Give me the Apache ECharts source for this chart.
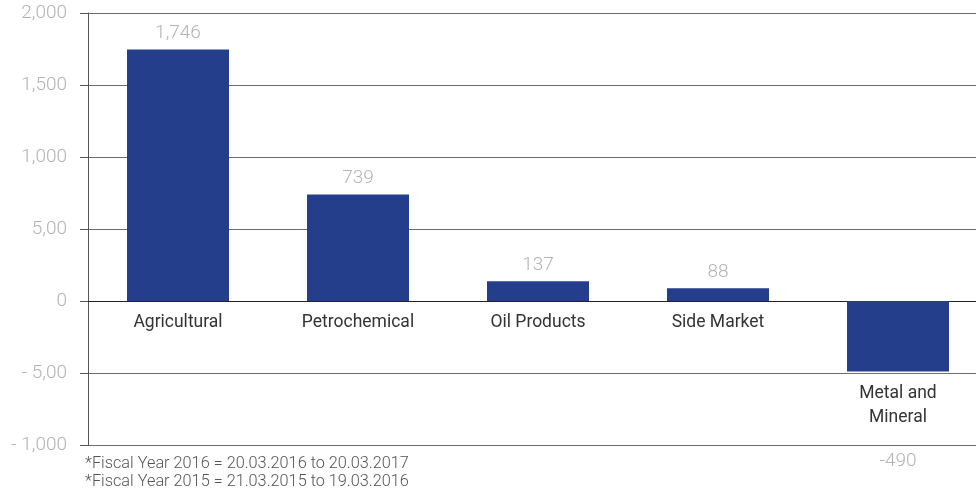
<!DOCTYPE html>
<html>
<head>
<meta charset="utf-8">
<script src="https://cdn.jsdelivr.net/npm/echarts@6/dist/echarts.min.js"></script>
<style>
  html, body { margin: 0; padding: 0; background: #fff; overflow: hidden; }
  #chart { width: 988px; height: 491px; }
</style>
</head>
<body>
<div id="chart"></div>
<script>
// Segment results by market
const categories = ['Agricultural', 'Petrochemical', 'Oil Products', 'Side Market', 'Metal and\nMineral'];
const values = [1746, 739, 137, 88, -490];
const valueLabels = ['1,746', '739', '137', '88', '-490'];

// Value axis ticks and their printed labels
const tickValues = [-1000, -500, 0, 500, 1000, 1500, 2000];
const tickLabels = ['- 1,000', '- 5,00', '0', '5,00', '1,000', '1,500', '2,000'];

const footnotes = [
  '*Fiscal Year 2016 = 20.03.2016 to 20.03.2017',
  '*Fiscal Year 2015 = 21.03.2015 to 19.03.2016'
];

const FONT = 'Roboto';
const BAR_COLOR = '#243E8C';
const VALUE_COLOR = '#b3b3b3';

const chart = echarts.init(document.getElementById('chart'), null, { renderer: 'canvas' });

const barData = values.map(v => {
  const item = { value: v };
  if (v < 0) {
    item.label = { position: 'bottom', distance: 80 };
  }
  return item;
});

chart.setOption({
  animation: false,
  backgroundColor: '#fff',
  grid: { left: 88, top: 13, width: 900, height: 432 },
  xAxis: {
    type: 'category',
    data: categories,
    axisLine: { onZero: true, lineStyle: { color: '#222', width: 1 } },
    axisTick: { show: false },
    axisLabel: { show: false },
    splitLine: { show: false }
  },
  yAxis: {
    type: 'value',
    min: -1000,
    max: 2000,
    interval: 500,
    axisLine: { show: true, lineStyle: { color: '#555', width: 1 } },
    axisTick: { show: true, length: 8, lineStyle: { color: '#555' } },
    axisLabel: {
      margin: 21,
      color: VALUE_COLOR,
      fontFamily: FONT,
      fontWeight: 300,
      fontSize: 19,
      formatter: v => tickLabels[tickValues.indexOf(v)]
    },
    splitLine: { show: true, lineStyle: { color: '#6e6e6e', width: 1 } }
  },
  series: [
    {
      name: 'values',
      type: 'bar',
      data: barData,
      barWidth: 102,
      itemStyle: { color: BAR_COLOR },
      label: {
        show: true,
        position: 'top',
        distance: 7,
        color: VALUE_COLOR,
        fontFamily: FONT,
        fontWeight: 300,
        fontSize: 19,
        formatter: p => valueLabels[p.dataIndex]
      },
      z: 3
    },
    {
      name: 'names',
      type: 'bar',
      data: values,
      barWidth: 102,
      barGap: '-100%',
      silent: true,
      itemStyle: { color: 'rgba(0,0,0,0)' },
      label: {
        show: true,
        position: 'bottom',
        distance: 10,
        color: '#333',
        fontFamily: FONT,
        fontSize: 17.5,
        lineHeight: 24,
        formatter: p => categories[p.dataIndex]
      },
      z: 4
    }
  ],
  graphic: footnotes.map((t, i) => ({
    type: 'text',
    left: 85,
    top: 456 + i * 18,
    style: { text: t, fill: '#555', font: '300 16.3px ' + FONT }
  }))
});
</script>
</body>
</html>
